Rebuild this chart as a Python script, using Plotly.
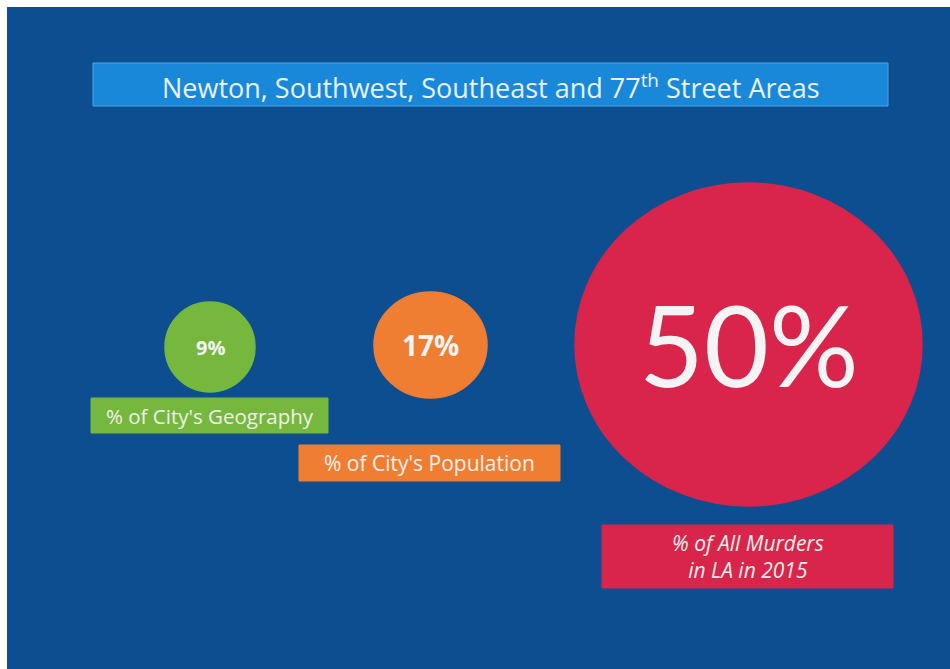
import plotly.graph_objects as go

# Data
categories = ["% of City's Geography", "% of City's Population", "% of All Murders<br>in LA in 2015"]
values = [9, 17, 50]
value_labels = ["9%", "17%", "50%"]
title_text = "Newton, Southwest, Southeast and 77<sup>th</sup> Street Areas"

# Styles / layout (positions in a 950x669 canvas coordinate system)
colors = ["#76B83E", "#F07E32", "#D9254B"]
circle_boxes = [(165, 302, 255, 392), (374, 292, 487, 398), (575, 183, 922, 506)]
label_boxes = [(91, 398, 328, 433), (299, 445, 560, 481), (602, 525, 893, 588)]
value_font_sizes = [20, 28, 112]
value_dy = [0, 0, -1]
label_font = [dict(size=20.5, italic=False), dict(size=21, italic=False), dict(size=21, italic=True)]

BG = "#0D4E90"
FONT = "Open Sans, Lato, sans-serif"
fig = go.Figure()

shapes = [
    dict(type="rect", xref="x", yref="y", x0=7, y0=7, x1=950, y1=669,
         fillcolor=BG, line=dict(width=0), layer="below"),
    dict(type="rect", xref="x", yref="y", x0=93, y0=63, x1=888, y1=106,
         fillcolor="#1A88D9", line=dict(color="#4AA3E6", width=1), layer="below"),
]
annotations = [
    dict(x=491, y=86, xref="x", yref="y", text=title_text, showarrow=False,
         font=dict(family=FONT, size=27, color="#E8F2FA"))
]

for i, cat in enumerate(categories):
    cx0, cy0, cx1, cy1 = circle_boxes[i]
    shapes.append(dict(type="circle", xref="x", yref="y", x0=cx0, y0=cy0, x1=cx1, y1=cy1,
                       fillcolor=colors[i], line=dict(color=colors[i], width=1.5), layer="below"))
    lx0, ly0, lx1, ly1 = label_boxes[i]
    shapes.append(dict(type="rect", xref="x", yref="y", x0=lx0, y0=ly0, x1=lx1, y1=ly1,
                       fillcolor=colors[i], line=dict(color=colors[i], width=1), layer="below"))
    vtext = value_labels[i] if i == 2 else "<b>" + value_labels[i] + "</b>"
    vfont = "Lato, Open Sans, sans-serif" if i == 2 else FONT
    annotations.append(dict(x=(cx0 + cx1) / 2, y=(cy0 + cy1) / 2 + value_dy[i],
                            xref="x", yref="y", text=vtext, showarrow=False,
                            font=dict(family=vfont, size=value_font_sizes[i], color="#F4F4F4")))
    txt = "<i>" + cat + "</i>" if label_font[i]["italic"] else cat
    annotations.append(dict(x=(lx0 + lx1) / 2, y=(ly0 + ly1) / 2, xref="x", yref="y",
                            text=txt, showarrow=False,
                            font=dict(family=FONT, size=label_font[i]["size"], color="#F2EFEA")))

fig.update_layout(
    width=950, height=669,
    margin=dict(l=0, r=0, t=0, b=0),
    paper_bgcolor="white", plot_bgcolor="white",
    xaxis=dict(range=[0, 950], visible=False, fixedrange=True),
    yaxis=dict(range=[669, 0], visible=False, fixedrange=True),
    shapes=shapes, annotations=annotations, showlegend=False,
)

fig.write_html("out.html", config={"displayModeBar": False},
               post_script="document.body.style.margin='0';document.body.style.overflow='hidden';")
